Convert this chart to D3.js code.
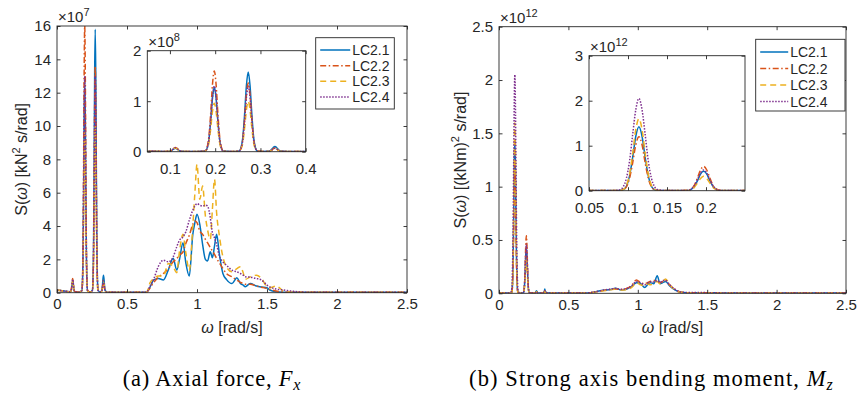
<!DOCTYPE html>
<html>
<head>
<meta charset="utf-8">
<title>Response spectra</title>
<script src="https://d3js.org/d3.v7.min.js"></script>
<style>
  body { margin: 0; background: #fff; }
  text { font-family: "Liberation Sans", Arial, sans-serif; fill: #262626; }
  .cap { font-family: "Liberation Serif", "Times New Roman", serif; fill: #000; }
</style>
</head>
<body>
<svg id="fig" width="859" height="398"></svg>
<script>
var names = ["LC2.1", "LC2.2", "LC2.3", "LC2.4"];

// axial force spectrum, values in 1e7 kN^2 s/rad
var omegaFx = [
  0, 0.05, 0.09,
  0.1, 0.104, 0.108, 0.112, 0.116, 0.12, 0.124,
  0.135, 0.16,
  0.178, 0.182, 0.186, 0.19, 0.194, 0.198, 0.202, 0.206, 0.21, 0.214, 0.218,
  0.235,
  0.253, 0.257, 0.261, 0.265, 0.269, 0.273, 0.277, 0.281, 0.285, 0.289, 0.293,
  0.307,
  0.32, 0.324, 0.328, 0.332, 0.336, 0.34, 0.344,
  0.36, 0.45, 0.55, 0.62,
  0.64, 0.665, 0.69, 0.725, 0.76, 0.795, 0.83, 0.855, 0.875, 0.9,
  0.92, 0.945, 0.97, 0.985, 1.0, 1.02, 1.04, 1.06, 1.075, 1.095,
  1.11, 1.125, 1.14, 1.16, 1.185, 1.21, 1.25, 1.285, 1.31, 1.33,
  1.345, 1.38, 1.425, 1.46, 1.5, 1.52, 1.565, 1.62, 1.69, 1.78,
  1.9, 2.1, 2.3, 2.5
];
var fxLC21 = [
  0.15, 0.1, 0.06,
  0.08, 0.25, 0.53, 0.7, 0.53, 0.25, 0.08,
  0.05, 0.04,
  0.13, 0.64, 2.3, 6.0, 10.6, 12.8, 10.6, 6.0, 2.3, 0.64, 0.13,
  0.04,
  0.16, 0.79, 2.8, 7.4, 13.1, 15.8, 13.1, 7.4, 2.8, 0.79, 0.16,
  0.04,
  0.13, 0.37, 0.79, 1.05, 0.79, 0.37, 0.13,
  0.03, 0.02, 0.02, 0.02,
  0.03, 0.35, 0.76, 0.85, 0.76, 1.36, 2.06, 1.36, 2.0, 3.0,
  1.8, 1.0, 3.5, 4.2, 4.7, 4.1, 2.9, 2.0, 1.9, 2.45,
  2.1, 2.8, 3.5, 2.3, 1.15, 0.8, 0.55, 0.9, 0.55, 0.45,
  0.36, 0.55, 0.4, 0.34, 0.3, 0.16, 0.06, 0.03, 0.02, 0.02,
  0.02, 0.02, 0.02, 0.02
];
var fxLC22 = [
  0.15, 0.1, 0.06,
  0.1, 0.3, 0.64, 0.85, 0.64, 0.3, 0.1,
  0.05, 0.04,
  0.16, 0.8, 2.9, 7.5, 13.3, 16.0, 13.3, 7.5, 2.9, 0.8, 0.16,
  0.04,
  0.14, 0.68, 2.4, 6.4, 11.3, 13.6, 11.3, 6.4, 2.4, 0.68, 0.14,
  0.04,
  0.09, 0.26, 0.56, 0.75, 0.56, 0.26, 0.09,
  0.03, 0.02, 0.02, 0.02,
  0.03, 0.3, 0.6, 0.95, 1.15, 1.45, 1.85, 2.05, 2.25, 2.45,
  2.95, 3.45, 4.1, 4.3, 4.2, 3.7, 3.5, 3.2, 3.0, 2.7,
  2.5, 2.3, 2.05, 1.8, 1.45, 1.15, 0.95, 0.75, 0.62, 0.55,
  0.5, 0.5, 0.4, 0.33, 0.25, 0.2, 0.1, 0.04, 0.02, 0.02,
  0.02, 0.02, 0.02, 0.02
];
var fxLC23 = [
  0.15, 0.1, 0.06,
  0.09, 0.26, 0.56, 0.75, 0.56, 0.26, 0.09,
  0.05, 0.04,
  0.1, 0.48, 1.7, 4.5, 8.0, 9.6, 8.0, 4.5, 1.7, 0.48, 0.1,
  0.04,
  0.1, 0.5, 1.8, 4.7, 8.3, 10.0, 8.3, 4.7, 1.8, 0.5, 0.1,
  0.04,
  0.08, 0.23, 0.49, 0.65, 0.49, 0.23, 0.08,
  0.03, 0.02, 0.02, 0.02,
  0.03, 0.6, 0.85, 1.0, 1.0, 1.75, 1.55, 1.2, 2.5, 3.5,
  2.4, 1.35, 4.0, 6.0, 7.7, 5.6, 6.4, 4.6, 3.8, 3.2,
  5.0, 6.8, 4.8, 3.4, 2.15, 1.55, 1.25, 1.45, 1.56, 1.2,
  0.8, 0.95, 1.05, 0.86, 0.36, 0.3, 0.4, 0.1, 0.03, 0.02,
  0.02, 0.02, 0.02, 0.02
];
var fxLC24 = [
  0.15, 0.1, 0.06,
  0.1, 0.28, 0.6, 0.8, 0.6, 0.28, 0.1,
  0.05, 0.04,
  0.13, 0.65, 2.3, 6.1, 10.8, 13.0, 10.8, 6.1, 2.3, 0.65, 0.13,
  0.04,
  0.13, 0.65, 2.3, 6.1, 10.8, 13.0, 10.8, 6.1, 2.3, 0.65, 0.13,
  0.04,
  0.08, 0.25, 0.53, 0.7, 0.53, 0.25, 0.08,
  0.03, 0.02, 0.02, 0.02,
  0.05, 0.4, 0.8, 1.6, 1.95, 1.85, 2.15, 2.75, 3.15, 3.35,
  3.65, 4.35, 4.95, 5.2, 5.35, 5.25, 5.2, 5.25, 5.2, 4.5,
  3.6, 3.3, 2.9, 2.2, 1.85, 1.65, 1.35, 1.25, 1.15, 1.05,
  0.96, 0.93, 0.85, 0.76, 0.46, 0.35, 0.22, 0.16, 0.08, 0.03,
  0.02, 0.02, 0.02, 0.02
];

// strong axis bending moment spectrum, values in 1e12 (kNm)^2 s/rad
var omegaMz = [
  0, 0.05, 0.08,
  0.09, 0.094, 0.098, 0.102, 0.106, 0.11, 0.114, 0.118, 0.122, 0.126, 0.13, 0.134, 0.138,
  0.15, 0.165,
  0.177, 0.181, 0.185, 0.189, 0.193, 0.197, 0.201, 0.205, 0.209, 0.213, 0.217,
  0.235, 0.26, 0.27, 0.28, 0.31, 0.325, 0.33, 0.335, 0.36, 0.45, 0.55,
  0.62, 0.66, 0.7, 0.75, 0.8, 0.84, 0.88, 0.92, 0.96, 0.99,
  1.02, 1.05, 1.07, 1.09, 1.115, 1.14, 1.16, 1.18, 1.2, 1.23,
  1.27, 1.3, 1.35, 1.45, 1.55, 1.65, 1.8, 2.0, 2.5
];
var mzLC21 = [
  0.003, 0.003, 0.003,
  0.004, 0.024, 0.10, 0.33, 0.74, 1.21, 1.42, 1.21, 0.74, 0.33, 0.10, 0.024, 0.004,
  0.003, 0.003,
  0.007, 0.031, 0.1, 0.22, 0.37, 0.43, 0.37, 0.22, 0.1, 0.031, 0.007,
  0.003, 0.004, 0.025, 0.004, 0.003, 0.012, 0.04, 0.012, 0.003, 0.002, 0.002,
  0.002, 0.006, 0.015, 0.028, 0.035, 0.048, 0.03, 0.04, 0.07, 0.1,
  0.09, 0.055, 0.08, 0.1, 0.09, 0.165, 0.09, 0.1, 0.11, 0.07,
  0.03, 0.012, 0.006, 0.006, 0.004, 0.003, 0.002, 0.002, 0.002
];
var mzLC22 = [
  0.003, 0.003, 0.003,
  0.004, 0.02, 0.088, 0.28, 0.62, 1.02, 1.2, 1.02, 0.62, 0.28, 0.088, 0.02, 0.004,
  0.003, 0.003,
  0.009, 0.039, 0.12, 0.28, 0.46, 0.54, 0.46, 0.28, 0.12, 0.039, 0.009,
  0.003, 0.003, 0.018, 0.003, 0.003, 0.008, 0.025, 0.008, 0.003, 0.002, 0.002,
  0.002, 0.006, 0.014, 0.025, 0.035, 0.04, 0.035, 0.045, 0.08, 0.125,
  0.1, 0.09, 0.1, 0.11, 0.12, 0.115, 0.1, 0.11, 0.12, 0.075,
  0.035, 0.015, 0.006, 0.005, 0.004, 0.003, 0.002, 0.002, 0.002
];
var mzLC23 = [
  0.003, 0.003, 0.003,
  0.005, 0.027, 0.12, 0.37, 0.83, 1.36, 1.6, 1.36, 0.83, 0.37, 0.12, 0.027, 0.005,
  0.003, 0.003,
  0.005, 0.023, 0.074, 0.17, 0.27, 0.32, 0.27, 0.17, 0.074, 0.023, 0.005,
  0.003, 0.003, 0.015, 0.003, 0.003, 0.008, 0.02, 0.008, 0.003, 0.002, 0.002,
  0.002, 0.005, 0.012, 0.025, 0.03, 0.04, 0.032, 0.035, 0.06, 0.1,
  0.08, 0.07, 0.09, 0.08, 0.1, 0.11, 0.09, 0.11, 0.135, 0.08,
  0.03, 0.012, 0.006, 0.005, 0.004, 0.003, 0.002, 0.002, 0.002
];
var mzLC24 = [
  0.003, 0.003, 0.003,
  0.023, 0.09, 0.28, 0.66, 1.25, 1.8, 2.05, 1.8, 1.25, 0.66, 0.28, 0.09, 0.023,
  0.003, 0.003,
  0.008, 0.034, 0.11, 0.24, 0.39, 0.46, 0.39, 0.24, 0.11, 0.034, 0.008,
  0.003, 0.003, 0.015, 0.003, 0.003, 0.008, 0.025, 0.008, 0.003, 0.002, 0.002,
  0.003, 0.007, 0.016, 0.03, 0.038, 0.045, 0.038, 0.045, 0.075, 0.11,
  0.1, 0.08, 0.095, 0.11, 0.105, 0.12, 0.1, 0.12, 0.12, 0.08,
  0.035, 0.015, 0.008, 0.007, 0.005, 0.003, 0.002, 0.002, 0.002
];

var omegaTicks = [0, 0.5, 1, 1.5, 2, 2.5];
var fxTicks = [0, 2, 4, 6, 8, 10, 12, 14, 16];
var mzTicks = [0, 0.5, 1, 1.5, 2, 2.5];
var fxInsetXTicks = [0.1, 0.2, 0.3, 0.4];
var fxInsetYTicks = [0, 10, 20];      // shown as 0,1,2 x10^8
var mzInsetXTicks = [0.05, 0.1, 0.15, 0.2];
var mzInsetYTicks = [0, 1, 2, 3];

var colors = ["#0072BD", "#D95319", "#EDB120", "#7E2F8E"];
var dashes = [null, "6,2.5,1.5,2.5", "6,4", "1.5,1.5"];

var svg = d3.select("#fig");
var clipId = 0;

function frame(g, x, y, xt, yt, fx, fy, tl, padX) {
  var x0 = x.range()[0], x1 = x.range()[1], y0 = y.range()[1], y1 = y.range()[0];
  var axes = [
    [d3.axisBottom(x).tickValues(xt).tickFormat(fx).tickPadding(padX), [0, y1]],
    [d3.axisTop(x).tickValues(xt).tickFormat(""), [0, y0]],
    [d3.axisLeft(y).tickValues(yt).tickFormat(fy).tickPadding(6), [x0, 0]],
    [d3.axisRight(y).tickValues(yt).tickFormat(""), [x1, 0]]
  ];
  axes.forEach(function(a) {
    var ag = g.append("g")
      .attr("transform", "translate(" + a[1][0] + "," + a[1][1] + ")")
      .call(a[0].tickSize(-tl).tickSizeOuter(0));
    ag.attr("font-size", 15).attr("font-family", "Liberation Sans, Arial, sans-serif").attr("color", "#262626");
    ag.select(".domain").remove();
    ag.selectAll("line").attr("stroke-width", 0.9);
  });
  g.append("rect").attr("x", x0).attr("y", y0).attr("width", x1 - x0).attr("height", y1 - y0)
    .attr("fill", "none").attr("stroke", "#262626").attr("stroke-width", 0.9);
}

function curves(g, x, y, omega, list) {
  var id = "clip" + (clipId++);
  g.append("clipPath").attr("id", id).append("rect")
    .attr("x", x.range()[0]).attr("y", y.range()[1])
    .attr("width", x.range()[1] - x.range()[0]).attr("height", y.range()[0] - y.range()[1]);
  var line = d3.line().x(function(d) { return x(d[0]); }).y(function(d) { return y(d[1]); })
    .curve(d3.curveMonotoneX);
  var cg = g.append("g").attr("clip-path", "url(#" + id + ")");
  list.forEach(function(vals, i) {
    cg.append("path")
      .attr("d", line(omega.map(function(w, k) { return [w, vals[k]]; })))
      .attr("fill", "none").attr("stroke", colors[i]).attr("stroke-width", 1.5)
      .attr("stroke-dasharray", dashes[i]);
  });
}

function expLabel(g, xp, yp, p) {
  var t = g.append("text").attr("x", xp).attr("y", yp).attr("font-size", 15);
  t.append("tspan").text("\u00d710");
  t.append("tspan").attr("font-size", 11).attr("dy", -6).text(p);
}

function legend(g, box, rowY, lineW) {
  g.append("rect").attr("x", box[0]).attr("y", box[1]).attr("width", box[2]).attr("height", box[3])
    .attr("fill", "#fff").attr("stroke", "#262626").attr("stroke-width", 0.9);
  names.forEach(function(n, i) {
    var yy = rowY[i];
    g.append("line").attr("x1", box[0] + 4.5).attr("x2", box[0] + 4.5 + lineW).attr("y1", yy).attr("y2", yy)
      .attr("stroke", colors[i]).attr("stroke-width", 1.5).attr("stroke-dasharray", dashes[i]);
    g.append("text").attr("x", box[0] + 6.5 + lineW).attr("y", yy + 5).attr("font-size", 14).text(n);
  });
}

function panel(p) {
  var g = svg.append("g");
  var x = d3.scaleLinear().domain([0, 2.5]).range([p.box[0], p.box[1]]);
  var y = d3.scaleLinear().domain(p.yDom).range([p.box[3], p.box[2]]);
  curves(g, x, y, p.omega, p.data);
  frame(g, x, y, omegaTicks, p.yTicks, function(d) { return d; }, function(d) { return d; }, 3.5, 6);
  expLabel(g, p.box[0] + 1, p.box[2] - 4, p.exp);

  // inset
  var ib = p.ibox;
  g.append("rect").attr("x", ib[0]).attr("y", ib[2]).attr("width", ib[1] - ib[0]).attr("height", ib[3] - ib[2])
    .attr("fill", "#fff");
  var ix = d3.scaleLinear().domain(p.ixDom).range([ib[0], ib[1]]);
  var iy = d3.scaleLinear().domain(p.iyDom).range([ib[3], ib[2]]);
  curves(g, ix, iy, p.omega, p.data);
  frame(g, ix, iy, p.ixTicks, p.iyTicks, function(d) { return d; }, p.iyFmt, 3.5, 11.5);
  expLabel(g, ib[0] + 1, ib[2] - 4, p.iexp);

  legend(g, p.legBox, p.legRows, p.legLine);

  // axis titles
  var xm = (p.box[0] + p.box[1]) / 2;
  var xl = g.append("text").attr("x", xm).attr("y", 333).attr("text-anchor", "middle").attr("font-size", 16);
  xl.append("tspan").attr("font-style", "italic").text("\u03c9");
  xl.append("tspan").text(" [rad/s]");

  var ym = (p.box[2] + p.box[3]) / 2;
  var yl = g.append("text").attr("transform", "translate(" + p.ylx + "," + ym + ") rotate(-90)")
    .attr("text-anchor", "middle").attr("font-size", 16);
  yl.append("tspan").text("S(");
  yl.append("tspan").attr("font-style", "italic").text("\u03c9");
  yl.append("tspan").text(p.ylab[0]);
  yl.append("tspan").attr("font-size", 11).attr("dy", -7).text("2");
  yl.append("tspan").attr("dy", 7).text(p.ylab[1]);

  // caption
  var c = g.append("text").attr("class", "cap").attr("x", p.capX).attr("y", 386)
    .attr("text-anchor", "middle").attr("font-size", 22.5).attr("letter-spacing", p.capSp);
  c.append("tspan").text(p.cap);
  c.append("tspan").attr("font-style", "italic").text(p.capVar[0]);
  c.append("tspan").attr("font-style", "italic").attr("font-size", 16).attr("dy", 4).text(p.capVar[1]);
}

panel({
  box: [57, 407, 26, 292.7], yDom: [0, 16], yTicks: fxTicks, exp: "7",
  omega: omegaFx, data: [fxLC21, fxLC22, fxLC23, fxLC24],
  ibox: [147.3, 305.7, 50.7, 151.7], ixDom: [0.05, 0.4], iyDom: [0, 20],
  ixTicks: fxInsetXTicks, iyTicks: fxInsetYTicks, iyFmt: function(d) { return d / 10; }, iexp: "8",
  legBox: [315.7, 37.7, 78.6, 71.3], legRows: [50, 65.7, 81.3, 97], legLine: 30,
  ylx: 27, ylab: [") [kN", " s/rad]"],
  capX: 212, cap: "(a) Axial force, ", capVar: ["F", "x"], capSp: 0.8
});

panel({
  box: [499, 846, 26.7, 293.3], yDom: [0, 2.5], yTicks: mzTicks, exp: "12",
  omega: omegaMz, data: [mzLC21, mzLC22, mzLC23, mzLC24],
  ibox: [589, 745, 55.7, 190.7], ixDom: [0.05, 0.25], iyDom: [0, 3],
  ixTicks: mzInsetXTicks, iyTicks: mzInsetYTicks, iyFmt: function(d) { return d; }, iexp: "12",
  legBox: [755.7, 39.3, 89.3, 71.7], legRows: [52, 68.5, 85, 101.5], legLine: 28,
  ylx: 466, ylab: [") [(kNm)", " s/rad]"],
  capX: 651.5, cap: "(b) Strong axis bending moment, ", capVar: ["M", "z"], capSp: 1.1
});
</script>
</body>
</html>
